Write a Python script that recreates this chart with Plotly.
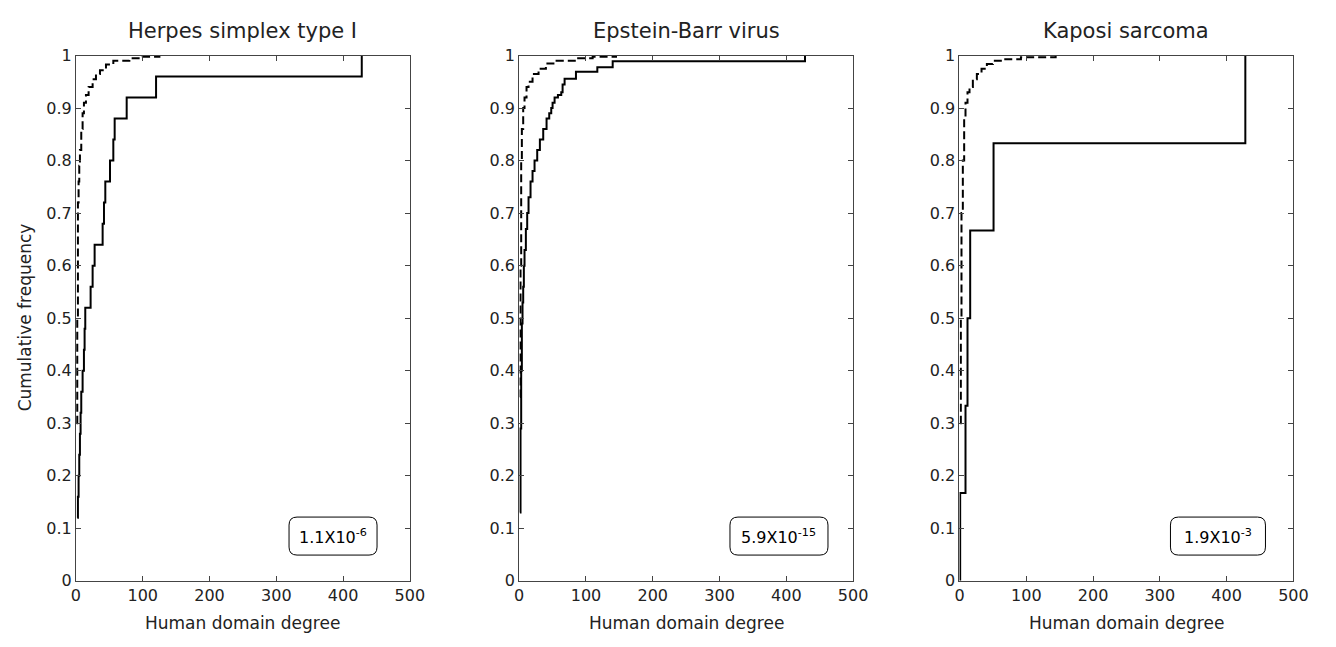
import plotly.graph_objects as go

# ---------------- data ----------------
titles = ["Herpes simplex type I", "Epstein-Barr virus", "Kaposi sarcoma"]
pvalues = ["1.1X10<sup>-6</sup>", "5.9X10<sup>-15</sup>", "1.9X10<sup>-3</sup>"]

# solid: virus-targeted human domains (cumulative frequency vs degree)
hsv_x = [2, 3, 4, 5, 6, 7, 8, 10, 12, 13, 14, 22, 25, 28, 40, 42, 44, 51, 56, 58, 76, 120, 428]
hsv_y = [0.12, 0.16, 0.20, 0.24, 0.28, 0.32, 0.36, 0.40, 0.44, 0.48, 0.52, 0.56, 0.60, 0.64,
         0.68, 0.72, 0.76, 0.80, 0.84, 0.88, 0.92, 0.96, 1.0]

ebv_x = [1, 2, 3, 4, 5, 6, 7, 8, 10, 12, 14, 17, 20, 23, 27, 31, 36, 41, 45, 48, 50, 53,
         58, 63, 65, 68, 85, 117, 140, 428]
ebv_y = [0.13, 0.29, 0.40, 0.49, 0.53, 0.56, 0.60, 0.63, 0.67, 0.70, 0.73, 0.76, 0.78, 0.80,
         0.82, 0.84, 0.86, 0.88, 0.89, 0.90, 0.91, 0.92, 0.925, 0.93, 0.945, 0.956, 0.969,
         0.978, 0.989, 1.0]

ks_x = [1, 1, 9, 12, 16, 51, 428]
ks_y = [0.0, 0.167, 0.333, 0.5, 0.667, 0.833, 1.0]

# dashed: all human domains
hsv_bg_x = [1, 2, 3, 4, 5, 6, 8, 10, 12, 15, 19, 25, 30, 36, 45, 56, 80, 100, 125]
hsv_bg_y = [0.30, 0.50, 0.72, 0.76, 0.79, 0.82, 0.86, 0.89, 0.91, 0.925, 0.94, 0.955, 0.965,
            0.972, 0.983, 0.99, 0.995, 0.998, 1.0]

ebv_bg_x = [1, 2, 3, 4, 6, 8, 11, 14, 20, 29, 40, 56, 85, 110, 145]
ebv_bg_y = [0.35, 0.60, 0.80, 0.86, 0.90, 0.92, 0.94, 0.95, 0.965, 0.975, 0.985, 0.99,
            0.995, 0.998, 1.0]

ks_bg_x = [1, 2, 3, 5, 7, 9, 12, 15, 20, 26, 33, 41, 50, 64, 92, 144]
ks_bg_y = [0.30, 0.50, 0.70, 0.80, 0.88, 0.91, 0.93, 0.94, 0.955, 0.965, 0.975, 0.984, 0.99,
           0.993, 0.997, 1.0]

x_ticks = [0, 100, 200, 300, 400, 500]
y_ticks = [0, 0.1, 0.2, 0.3, 0.4, 0.5, 0.6, 0.7, 0.8, 0.9, 1]
y_ticktext = ["0", "0.1", "0.2", "0.3", "0.4", "0.5", "0.6", "0.7", "0.8", "0.9", "1"]

solid = [(hsv_x, hsv_y), (ebv_x, ebv_y), (ks_x, ks_y)]
dashed = [(hsv_bg_x, hsv_bg_y), (ebv_bg_x, ebv_bg_y), (ks_bg_x, ks_bg_y)]
box_x = [385, 389, 387]
box_y = 0.085
box_w = [88, 98, 95]

# ---------------- layout ----------------
W, H = 1336, 647
FONT = "DejaVu Sans"
px_domains = [(72, 411), (522, 861), (969, 1308)]
y_dom = [1 - 589 / H, 1 - 48 / H]

fig = go.Figure()
for i in range(3):
    xa = "x" if i == 0 else f"x{i+1}"
    ya = "y" if i == 0 else f"y{i+1}"
    fig.add_trace(go.Scatter(x=dashed[i][0], y=dashed[i][1], mode="lines",
                             line=dict(color="black", width=2, dash="8px,4px", shape="hv"),
                             xaxis=xa, yaxis=ya, showlegend=False))
    fig.add_trace(go.Scatter(x=solid[i][0], y=solid[i][1], mode="lines",
                             line=dict(color="black", width=2, shape="hv"),
                             xaxis=xa, yaxis=ya, showlegend=False))

axis_common = dict(showline=True, linecolor="#444", linewidth=1, mirror="ticks",
                   ticks="inside", ticklen=5, tickcolor="#444", showgrid=False,
                   zeroline=False, tickfont=dict(family=FONT, size=16, color="#222"))

layout = dict(width=W, height=H, margin=dict(l=0, r=0, t=0, b=0),
              plot_bgcolor="white", paper_bgcolor="white",
              font=dict(family=FONT, color="#222"))
for i in range(3):
    sx = "xaxis" if i == 0 else f"xaxis{i+1}"
    sy = "yaxis" if i == 0 else f"yaxis{i+1}"
    a, b = px_domains[i]
    layout[sx] = dict(domain=[a / W, b / W], range=[0, 500], tickvals=x_ticks,
                      anchor="y" if i == 0 else f"y{i+1}", **axis_common)
    layout[sy] = dict(domain=y_dom, range=[0, 1], tickvals=y_ticks, ticktext=y_ticktext,
                      anchor="x" if i == 0 else f"x{i+1}", **axis_common)
fig.update_layout(**layout)

annotations = []
shapes = []
for i in range(3):
    a, b = px_domains[i]
    cx = (a + b) / 2 / W
    xr = "x" if i == 0 else f"x{i+1}"
    yr = "y" if i == 0 else f"y{i+1}"
    annotations.append(dict(text=titles[i], x=cx, y=1 - 23 / H, xref="paper", yref="paper",
                            showarrow=False, font=dict(family=FONT, size=21, color="#222"),
                            xanchor="center", yanchor="middle"))
    annotations.append(dict(text="Human domain degree", x=cx, y=1 - 633 / H, xref="paper",
                            yref="paper", showarrow=False,
                            font=dict(family=FONT, size=17, color="#222"),
                            xanchor="center", yanchor="middle"))
    annotations.append(dict(text=pvalues[i], x=box_x[i], y=box_y, xref=xr, yref=yr,
                            showarrow=False, font=dict(family=FONT, size=16, color="black"),
                            xanchor="center", yanchor="middle"))
    w = box_w[i] / 2
    h = 19
    r = 8
    path = (f"M {-w+r},{-h} L {w-r},{-h} Q {w},{-h} {w},{-h+r} L {w},{h-r} Q {w},{h} {w-r},{h} "
            f"L {-w+r},{h} Q {-w},{h} {-w},{h-r} L {-w},{-h+r} Q {-w},{-h} {-w+r},{-h} Z")
    shapes.append(dict(type="path", path=path, xref=xr, yref=yr, xsizemode="pixel",
                       ysizemode="pixel", xanchor=box_x[i], yanchor=box_y,
                       line=dict(color="black", width=1)))
annotations.append(dict(text="Cumulative frequency", x=20 / W, y=1 - 318 / H, xref="paper",
                        yref="paper", showarrow=False, textangle=-90,
                        font=dict(family=FONT, size=17, color="#222"),
                        xanchor="center", yanchor="middle"))
fig.update_layout(annotations=annotations, shapes=shapes)

fig.write_html("out.html", config={"displayModeBar": False},
               post_script="document.body.style.margin='0px';document.body.style.overflow='hidden';")
